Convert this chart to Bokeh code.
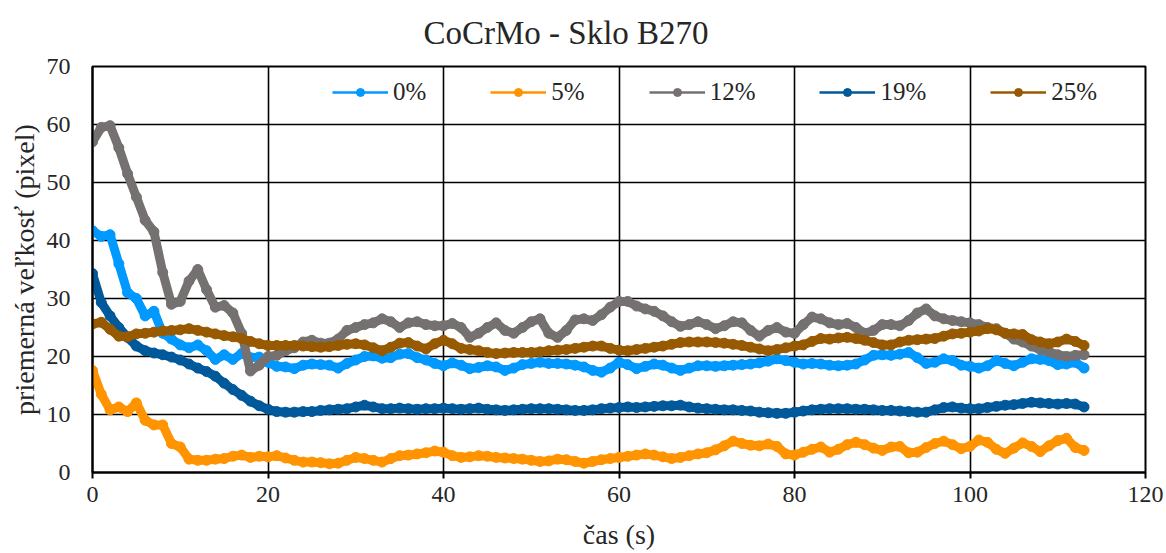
import numpy as np
from bokeh.plotting import figure
from bokeh.models import ColumnDataSource, Range1d, FixedTicker, Legend, LegendItem
from bokeh.embed import file_html
from bokeh.resources import INLINE

# sampling times in seconds (one reading per second)
time_s = list(range(0, 114))

size_0 = [41.7, 40.7, 41.0, 36.0, 31.0, 30.0, 27.0, 27.8, 24.0, 23.0,
          22.0, 21.5, 22.0, 21.0, 19.5, 20.3, 19.5, 20.5, 19.8, 19.9,
          19.0, 18.3, 18.2, 17.9, 18.5, 18.7, 18.6, 18.5, 18.0, 18.8,
          19.4, 20.0, 20.1, 19.7, 19.8, 20.4, 20.5, 19.8, 19.4, 18.8,
          18.4, 18.9, 18.5, 17.9, 18.1, 18.4, 18.2, 17.6, 18.0, 18.6,
          18.8, 19.0, 18.8, 18.8, 18.7, 18.5, 18.2, 17.6, 17.3, 18.0,
          19.0, 18.6, 17.9, 18.3, 18.7, 18.5, 18.0, 17.6, 18.0, 18.4,
          18.4, 18.3, 18.4, 18.5, 18.6, 18.7, 18.9, 19.2, 19.6, 19.3,
          19.0, 18.7, 18.8, 18.7, 18.5, 18.4, 18.5, 18.7, 19.4, 20.2,
          20.3, 20.2, 20.4, 20.7, 19.8, 18.8, 19.0, 19.6, 19.3, 18.5,
          18.3, 18.0, 18.4, 19.3, 18.8, 18.4, 19.0, 19.6, 19.5, 19.3,
          18.6, 18.7, 19.0, 18.0]

size_5 = [17.6, 13.5, 10.8, 11.3, 10.5, 12.0, 9.0, 8.2, 8.2, 5.0,
          4.4, 2.3, 2.1, 2.1, 2.3, 2.4, 2.8, 3.0, 2.6, 2.8,
          2.7, 2.9, 2.5, 2.1, 1.8, 1.8, 1.7, 1.5, 1.6, 2.1,
          2.6, 2.4, 2.1, 1.8, 2.4, 2.9, 3.0, 3.2, 3.4, 3.7,
          3.5, 2.9, 2.6, 2.7, 2.9, 2.8, 2.6, 2.5, 2.4, 2.3,
          2.1, 1.9, 2.0, 2.3, 2.2, 1.9, 1.6, 1.9, 2.2, 2.4,
          2.6, 2.8, 3.0, 3.2, 3.0, 2.7, 2.4, 2.6, 2.9, 3.2,
          3.4, 3.9, 4.6, 5.4, 5.0, 4.7, 4.6, 4.9, 4.5, 3.2,
          3.0, 3.5, 4.0, 4.4, 3.5, 4.0, 4.8, 5.2, 4.8, 4.2,
          3.8, 4.4, 4.5, 3.4, 3.5, 4.3, 5.0, 5.4, 4.8, 4.1,
          4.5, 5.6, 5.2, 4.0, 3.3, 4.2, 5.1, 4.5, 3.6, 4.6,
          5.5, 5.9, 4.3, 3.8]

size_12 = [57.0, 59.5, 59.8, 56.0, 51.5, 47.5, 43.5, 41.5, 34.5, 29.0,
           29.5, 33.0, 35.0, 31.5, 28.5, 28.8, 27.5, 24.0, 17.5, 18.5,
           20.0, 20.2, 21.0, 21.5, 22.5, 22.8, 22.3, 22.3, 23.0, 24.5,
           25.0, 25.5, 25.8, 26.5, 26.0, 25.0, 25.8, 26.0, 25.5, 25.3,
           25.3, 25.7, 25.0, 23.3, 24.0, 25.0, 25.8, 24.5, 24.0, 25.0,
           26.0, 26.5, 24.0, 23.3, 24.5, 26.3, 26.5, 26.2, 27.2, 28.5,
           29.5, 29.5, 28.7, 28.2, 27.8, 27.0, 26.0, 25.2, 25.5, 26.0,
           25.5, 24.8, 25.3, 26.0, 25.8, 24.5, 23.5, 24.5, 25.0, 24.2,
           24.0, 25.5, 26.8, 26.5, 25.8, 25.5, 25.7, 25.0, 24.0, 24.5,
           25.5, 25.5, 25.3, 26.2, 27.5, 28.2, 27.0, 26.5, 26.2, 26.0,
           25.8, 25.5, 25.0, 24.8, 24.0, 23.0, 22.5, 21.8, 21.2, 20.8,
           20.3, 20.0, 20.2, 20.3]

size_19 = [34.3, 29.3, 27.0, 25.0, 23.3, 21.8, 21.0, 20.6, 20.3, 19.9,
           19.4, 18.7, 18.0, 17.4, 16.6, 15.4, 14.3, 13.3, 12.3, 11.5,
           10.9, 10.5, 10.4, 10.4, 10.5, 10.5, 10.7, 10.8, 10.9, 11.0,
           11.3, 11.6, 11.3, 11.0, 11.0, 11.1, 11.0, 10.9, 11.0, 11.0,
           11.1, 11.0, 10.9, 11.0, 11.1, 10.9, 10.8, 10.7, 10.8, 10.9,
           11.0, 11.0, 11.0, 10.9, 10.8, 10.7, 10.7, 10.8, 11.0, 11.1,
           11.2, 11.3, 11.2, 11.3, 11.4, 11.5, 11.5, 11.6, 11.3, 11.1,
           11.0, 10.9, 10.8, 10.8, 10.7, 10.6, 10.4, 10.3, 10.2, 10.2,
           10.4, 10.6, 10.8, 10.9, 11.0, 11.0, 11.0, 10.9, 10.9, 10.8,
           10.7, 10.7, 10.6, 10.5, 10.4, 10.4, 10.8, 11.2, 11.3, 11.1,
           11.0, 11.0, 11.2, 11.4, 11.6, 11.7, 11.9, 12.1, 12.0, 11.9,
           11.8, 11.9, 11.8, 11.3]

size_25 = [25.6, 25.9, 24.7, 23.5, 23.4, 23.9, 24.0, 24.2, 24.4, 24.5,
           24.6, 24.8, 24.5, 24.2, 23.9, 23.6, 23.4, 23.1, 22.6, 22.2,
           21.9, 21.9, 21.9, 21.9, 21.8, 21.7, 21.6, 21.7, 21.9, 22.1,
           22.2, 22.0, 21.5, 21.0, 21.6, 22.3, 22.4, 21.8, 21.3, 22.2,
           22.8, 22.2, 21.4, 21.2, 21.0, 20.7, 20.5, 20.6, 20.7, 20.7,
           20.7, 20.8, 21.0, 21.1, 21.2, 21.4, 21.6, 21.8, 21.8, 21.4,
           21.1, 21.0, 21.2, 21.4, 21.6, 21.8, 22.1, 22.4, 22.5, 22.5,
           22.5, 22.4, 22.3, 22.1, 21.9, 21.6, 21.3, 21.0, 21.2, 21.5,
           21.8, 22.0, 22.6, 23.1, 23.0, 23.2, 23.3, 23.1, 22.8, 22.4,
           22.0, 22.0, 22.5, 22.8, 22.9, 23.0, 23.1, 23.5, 23.9, 24.0,
           24.2, 24.4, 24.8, 24.6, 24.0, 23.9, 23.8, 22.9, 22.5, 22.2,
           22.5, 23.0, 22.6, 21.9]

series_names = ["0%", "5%", "12%", "19%", "25%"]
series_values = [size_0, size_5, size_12, size_19, size_25]
series_colors = ["#0099FF", "#FF9300", "#767171", "#00599A", "#985A00"]

x_ticks = [0, 20, 40, 60, 80, 100, 120]
y_ticks = [0, 10, 20, 30, 40, 50, 60, 70]

SERIF = "Liberation Serif"
TEXT = "#262626"

p = figure(width=1166, height=553, output_backend="svg", toolbar_location=None,
           x_range=Range1d(0, 120), y_range=Range1d(0, 70),
           title="CoCrMo - Sklo B270",
           x_axis_label="čas (s)", y_axis_label="priemerná veľkosť (pixel)")

p.min_border_left = 92
p.min_border_right = 21
p.min_border_top = 66
p.min_border_bottom = 81

p.title.text_font = SERIF
p.title.text_font_size = "33px"
p.title.text_font_style = "normal"
p.title.text_color = TEXT
p.title.align = "left"
p.title.offset = 331
p.title.vertical_align = "top"
p.title.standoff = 28

p.outline_line_color = "black"
p.outline_line_width = 2
p.background_fill_color = "white"
p.border_fill_color = "white"

for ax in (p.xaxis, p.yaxis):
    ax.axis_line_color = "black"
    ax.axis_line_width = 2
    ax.minor_tick_line_color = None
    ax.major_label_text_font = SERIF
    ax.major_label_text_font_size = "24px"
    ax.major_label_text_color = TEXT
    ax.axis_label_text_font = SERIF
    ax.axis_label_text_font_size = "28px"
    ax.axis_label_text_font_style = "normal"
    ax.axis_label_text_color = TEXT

p.xaxis.ticker = FixedTicker(ticks=x_ticks)
p.yaxis.ticker = FixedTicker(ticks=y_ticks)
p.xaxis.major_tick_out = 6
p.xaxis.major_tick_in = 0
p.xaxis.major_tick_line_color = "black"
p.xaxis.major_tick_line_width = 2
p.xaxis.major_label_standoff = 8
p.xaxis.axis_label_standoff = 14
p.yaxis.major_tick_out = 0
p.yaxis.major_tick_in = 0
p.yaxis.major_label_standoff = 22
p.yaxis.axis_label_standoff = 4

p.xgrid.ticker = FixedTicker(ticks=x_ticks)
p.ygrid.ticker = FixedTicker(ticks=y_ticks)
for g in (p.xgrid, p.ygrid):
    g.grid_line_color = "black"
    g.grid_line_width = 1.6

legend_items = []
for name, vals, col in zip(series_names, series_values, series_colors):
    src = ColumnDataSource(dict(t=time_s, v=vals))
    p.line("t", "v", source=src, line_color=col, line_width=9,
           line_join="round", line_cap="round")
    p.scatter("t", "v", source=src, marker="circle", size=10,
              fill_color=col, line_color=col)
    # legend-only swatch: a single undrawn (NaN) point carrying the key style
    key_src = ColumnDataSource(dict(t=[np.nan], v=[np.nan]))
    kl = p.line("t", "v", source=key_src, line_color=col, line_width=2.5)
    ks = p.scatter("t", "v", source=key_src, marker="circle", size=11,
                   fill_color=col, line_color=col)
    legend_items.append(LegendItem(label=name, renderers=[kl, ks]))

legend = Legend(items=legend_items, orientation="horizontal",
                location=(240, 366), background_fill_alpha=0,
                border_line_color=None, padding=0, margin=0,
                spacing=64, glyph_width=56, glyph_height=20,
                label_standoff=5, label_text_font=SERIF,
                label_text_font_size="25px", label_text_color=TEXT)
p.add_layout(legend, "center")

open("out.html", "w").write(file_html(p, INLINE))
